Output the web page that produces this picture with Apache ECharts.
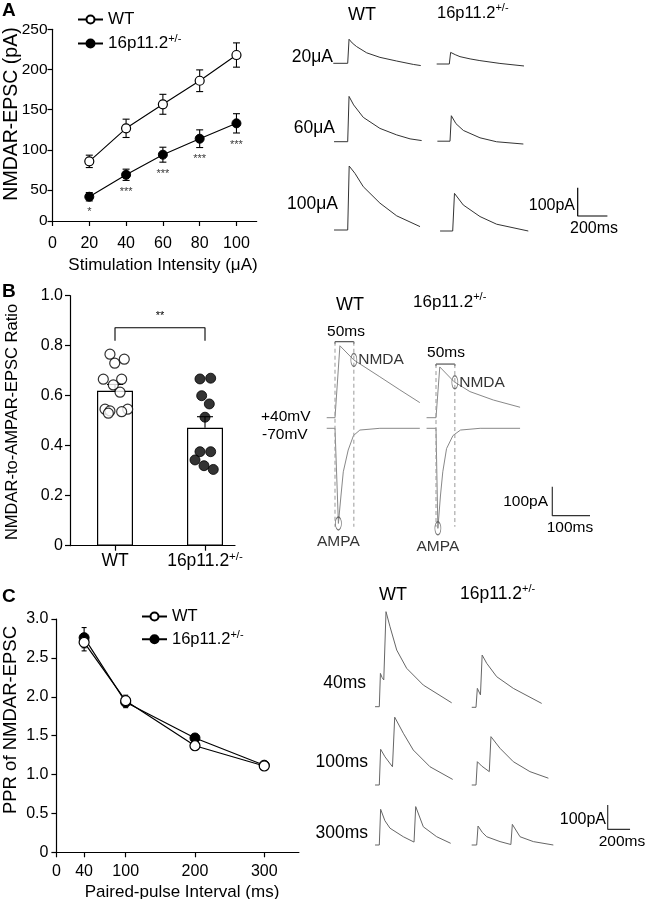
<!DOCTYPE html>
<html><head><meta charset="utf-8">
<script src="https://cdn.jsdelivr.net/npm/echarts@6/dist/echarts.min.js"></script>
<style>html,body{margin:0;padding:0;background:#fff}#c{width:646px;height:899px}</style>
</head><body><div id="c"></div>
<script>
// ---------- Panel A: NMDAR-EPSC vs stimulation intensity ----------
const aIntensity = [20, 40, 60, 80, 100];
const aWT = [85.7, 126.8, 156.7, 186, 218];
const aWTErr = [7.7, 11.4, 12.4, 13.5, 15.1];
const aHet = [41.7, 69, 94, 113.9, 133];
const aHetErr = [5.2, 7, 9.3, 11, 12];
const aStars = ['*', '***', '***', '***', '***'];
const aXTicks = [0, 20, 40, 60, 80, 100];
const aYTicks = [11.5, 50, 100, 150, 200, 250];
const aYTickLabels = ['0', '50', '100', '150', '200', '250'];

// ---------- Panel B: NMDA/AMPA ratio ----------
const bGroups = ['WT', '16p11.2+/-'];
const bMeans = [0.62, 0.472];
const bSem = [0.025, 0.044];
const bWTDots = [[0.444,0.766],[0.603,0.746],[0.497,0.73],[0.370,0.666],[0.574,0.666],[0.481,0.643],[0.556,0.614],[0.389,0.546],[0.444,0.539],[0.641,0.546],[0.574,0.536],[0.426,0.53]];
const bHetDots = [[1.444,0.667],[1.563,0.67],[1.463,0.6],[1.548,0.567],[1.5,0.514],[1.444,0.376],[1.563,0.376],[1.389,0.343],[1.489,0.32],[1.592,0.305]];
const bSigBracket = [[0.5,0.82],[0.5,0.872],[1.5,0.872],[1.5,0.82]];
const bYTicks = [0, 0.2, 0.4, 0.6, 0.8, 1.0];

// ---------- Panel C: paired-pulse ratio ----------
const cInterval = [40, 100, 200, 300];
const cWT = [2.70, 1.95, 1.37, 1.11];
const cWTErr = [0.11, 0.07, 0.04, 0.02];
const cHet = [2.76, 1.93, 1.47, 1.12];
const cHetErr = [0.13, 0.07, 0.03, 0.02];
const cXTicks = [0, 40, 100, 200, 300];

// ---------- Example traces [ms, pA] ----------
const trA_WT20   = [[-97,0],[0,0],[9,85],[30,72],[60,59],[128,37],[217,21],[330,8],[442,-4],[492,-8]];
const trA_Het20  = [[-85,0],[0,0],[9,41],[40,33],[72,26],[140,18],[206,12],[341,2],[503,-7]];
const trA_WT60   = [[-92,0],[0,0],[9,160],[40,130],[105,86],[217,47],[330,24],[420,10],[498,4]];
const trA_Het60  = [[-85,0],[0,0],[9,90],[40,62],[90,38],[202,12],[314,-2],[494,-10]];
const trA_WT100  = [[-92,0],[0,0],[10,226],[49,200],[105,153],[217,95],[330,50],[487,12]];
const trA_Het100 = [[-85,0],[0,0],[12,133],[71,92],[184,51],[296,24],[509,0]];
const scaleA = [[0,100],[0,0],[200,0]];

const trB_WT40  = [[-22,0],[0,0],[13,248],[50,199],[119,141],[172,96],[225,52]];
const trB_WT70  = [[-22,0],[0,0],[9,-328],[16,-230],[22,-150],[35,-75],[49,-25],[66,-6],[119,0],[225,0]];
const trB_Het40 = [[-25,0],[0,0],[10,175],[48,124],[90,90],[152,61],[223,36]];
const trB_Het70 = [[-25,0],[0,0],[5,-345],[12,-230],[18,-150],[28,-70],[45,-25],[65,-6],[117,0],[223,0]];
const bWTWindow = [[0,255],[0,262],[50,262],[50,255]];
const bWTDash = [[[0,262],[0,-376]], [[50,262],[50,-376]]];
const bHetWindow = [[0,178],[0,185],[50,185],[50,178]];
const bHetDash = [[[0,185],[0,-376]], [[50,185],[50,-376]]];
const bAMPA_WT = [9,-328], bNMDA_WT = [50,199], bAMPA_Het = [5,-345], bNMDA_Het = [50,122];
const scaleB = [[0,100],[0,0],[100,0]];

const trC_WT40   = [[-38,0],[0,0],[10,137],[25,120],[40,110],[60,391],[96,329],[156,233],[245,158],[394,89],[648,16]];
const trC_Het40  = [[-38,0],[0,0],[12,78],[40,51],[55,215],[96,181],[185,126],[334,78],[588,16]];
const trC_WT100  = [[-38,0],[0,0],[12,147],[51,116],[118,75],[138,279],[215,213],[304,144],[454,75],[657,23]];
const trC_Het100 = [[-38,0],[0,0],[12,96],[51,78],[119,55],[134,199],[215,151],[334,96],[483,55],[648,28]];
const trC_WT300  = [[-38,0],[0,0],[12,147],[50,100],[96,69],[215,34],[311,12],[326,158],[394,75],[514,34],[639,7]];
const trC_Het300 = [[-45,0],[0,0],[12,78],[50,52],[90,34],[209,14],[306,2],[319,85],[388,34],[507,14],[686,0]];
const scaleC = [[0,100],[0,0],[200,0]];

// ---------------------------------------------------------------
const FF = '"Liberation Sans", Arial, Helvetica, sans-serif';
const grids = [], xAxes = [], yAxes = [], series = [];
function addGrid(g, xa, ya) {
  grids.push(Object.assign({ containLabel: false, outerBoundsMode: 'none' }, g));
  const gi = grids.length - 1;
  xAxes.push(Object.assign({ gridIndex: gi }, xa));
  yAxes.push(Object.assign({ gridIndex: gi }, ya));
  return gi;
}
const axLine = { show: true, lineStyle: { color: '#000', width: 1.2 } };
const axTick = (vals) => ({ show: true, length: 5, customValues: vals, lineStyle: { color: '#000', width: 1.2 } });
const axLabel = (vals, fmt, extra) => Object.assign({ customValues: vals, formatter: fmt, fontSize: 16, color: '#000', fontFamily: FF }, extra || {});

// ---- Grid A ----
const gA = addGrid({ left: 52.5, top: 29.3, width: 204.2, height: 191.7 },
  { type: 'value', min: 0, max: 111, axisLine: axLine, axisTick: axTick(aXTicks), splitLine: { show: false },
    axisLabel: axLabel(aXTicks, v => String(v), { margin: 15 }) },
  { type: 'value', min: 11.5, max: 250, axisLine: axLine, axisTick: axTick(aYTicks), splitLine: { show: false },
    axisLabel: axLabel(aYTicks, v => aYTickLabels[aYTicks.indexOf(v)], { margin: 5, fontSize: 15.5 }) });

// ---- Grid B ----
const gB = addGrid({ left: 70, top: 295.7, width: 165, height: 250 },
  { type: 'value', min: 0, max: 1.8333, axisLine: axLine, axisTick: axTick([0.5, 1.5]), splitLine: { show: false },
    axisLabel: axLabel([0.5, 1.5], v => v < 1 ? '{n|WT}' : '{n|16p11.2}{s|+/-}',
      { margin: 5, rich: { n: { fontSize: 17.5, fontFamily: FF, color: '#000', lineHeight: 20 }, s: { fontSize: 11.5, fontFamily: FF, color: '#000', verticalAlign: 'top', lineHeight: 20 } } }) },
  { type: 'value', min: 0, max: 1, axisLine: axLine, axisTick: axTick(bYTicks), splitLine: { show: false },
    axisLabel: axLabel(bYTicks, v => v === 0 ? '0' : v.toFixed(1), { margin: 7 }) });

// ---- Grid C ----
const gC = addGrid({ left: 56.4, top: 619, width: 242.5, height: 233.3 },
  { type: 'value', min: 0, max: 350, axisLine: axLine, axisTick: axTick(cXTicks), splitLine: { show: false },
    axisLabel: axLabel(cXTicks, v => String(v), { margin: 11 }) },
  { type: 'value', min: 0, max: 3, interval: 0.5, axisLine: axLine, axisTick: { show: true, length: 5, lineStyle: { color: '#000', width: 1.2 } }, splitLine: { show: false },
    axisLabel: { formatter: v => v === 0 ? '0' : v.toFixed(1), fontSize: 16, color: '#000', fontFamily: FF, margin: 8 } });

function errSeries(gi, data, capHalf, onlyUp) {
  return {
    type: 'custom', xAxisIndex: gi, yAxisIndex: gi, data, z: 1, silent: true,
    encode: { x: 0, y: 1 },
    renderItem(params, api) {
      const x = api.value(0), m = api.value(1), e = api.value(2);
      const top = api.coord([x, m + e]);
      const bot = api.coord([x, onlyUp ? m : m - e]);
      const st = { stroke: '#000', lineWidth: 1.1 };
      const ch = [
        { type: 'line', shape: { x1: top[0], y1: top[1], x2: bot[0], y2: bot[1] }, style: st },
        { type: 'line', shape: { x1: top[0] - capHalf, y1: top[1], x2: top[0] + capHalf, y2: top[1] }, style: st }
      ];
      if (!onlyUp) ch.push({ type: 'line', shape: { x1: bot[0] - capHalf, y1: bot[1], x2: bot[0] + capHalf, y2: bot[1] }, style: st });
      return { type: 'group', children: ch };
    }
  };
}
const openSym = { color: '#fff', borderColor: '#000', borderWidth: 1.2 };
const fillSym = { color: '#000', borderColor: '#000', borderWidth: 1 };

// Panel A series
series.push(errSeries(gA, aIntensity.map((x, i) => [x, aWT[i], aWTErr[i]]), 3.5, false));
series.push(errSeries(gA, aIntensity.map((x, i) => [x, aHet[i], aHetErr[i]]), 3.5, false));
series.push({ name: 'WT', type: 'line', xAxisIndex: gA, yAxisIndex: gA, z: 3, data: aIntensity.map((x, i) => [x, aWT[i]]),
  symbol: 'circle', symbolSize: 9, showAllSymbol: true, lineStyle: { color: '#000', width: 1.1 }, itemStyle: openSym });
series.push({ name: '16p11.2+/-', type: 'line', xAxisIndex: gA, yAxisIndex: gA, z: 3, data: aIntensity.map((x, i) => [x, aHet[i]]),
  symbol: 'circle', symbolSize: 9, lineStyle: { color: '#000', width: 1.1 }, itemStyle: fillSym });
series.push({ type: 'scatter', xAxisIndex: gA, yAxisIndex: gA, silent: true, symbolSize: 0,
  data: aIntensity.map((x, i) => [x, aHet[i] - aHetErr[i]]),
  label: { show: true, position: 'bottom', distance: 6, formatter: p => aStars[p.dataIndex], fontSize: 11, color: '#000', fontFamily: FF } });

// Panel B series
series.push({ type: 'bar', xAxisIndex: gB, yAxisIndex: gB, barWidth: 36, z: 1, silent: true,
  data: bMeans.map((m, i) => [i + 0.5, m]), itemStyle: { color: '#fff', borderColor: '#000', borderWidth: 1.2 } });
series.push(Object.assign(errSeries(gB, bMeans.map((m, i) => [i + 0.5, m, bSem[i]]), 8, true), { z: 2 }));
series.push({ type: 'scatter', xAxisIndex: gB, yAxisIndex: gB, z: 4, data: bWTDots, symbolSize: 10, itemStyle: openSym, silent: true });
series.push({ type: 'scatter', xAxisIndex: gB, yAxisIndex: gB, z: 5, data: bHetDots, symbolSize: 10, itemStyle: fillSym, silent: true });
series.push({ type: 'line', xAxisIndex: gB, yAxisIndex: gB, data: bSigBracket, symbol: 'none', lineStyle: { color: '#000', width: 1.1 }, silent: true });

// Panel C series
series.push(errSeries(gC, cInterval.map((x, i) => [x, cHet[i], cHetErr[i]]), 2.5, false));
series.push(errSeries(gC, cInterval.map((x, i) => [x, cWT[i], cWTErr[i]]), 2.5, false));
series.push({ name: '16p11.2+/-', type: 'line', xAxisIndex: gC, yAxisIndex: gC, z: 3, data: cInterval.map((x, i) => [x, cHet[i]]),
  symbol: 'circle', symbolSize: 10, lineStyle: { color: '#000', width: 1.2 }, itemStyle: fillSym });
series.push({ name: 'WT', type: 'line', xAxisIndex: gC, yAxisIndex: gC, z: 4, data: cInterval.map((x, i) => [x, cWT[i]]),
  symbol: 'circle', symbolSize: 10, lineStyle: { color: '#000', width: 1.2 }, itemStyle: openSym });

// ---- trace grids: origin (t=0, I=0) in pixels, px per ms, px per pA; extent from the data it holds ----
function traceGrid(ox, oy, sx, sy, sets) {
  const pts = [].concat(...sets);
  const ts = pts.map(p => p[0]), is = pts.map(p => p[1]);
  const t0 = Math.min(...ts) - 10, t1 = Math.max(...ts) + 10;
  const i0 = Math.min(...is) - 10, i1 = Math.max(...is) + 10;
  return addGrid({ left: ox + t0 * sx, top: oy - i1 * sy, width: (t1 - t0) * sx, height: (i1 - i0) * sy },
    { type: 'value', min: t0, max: t1, show: false, splitLine: { show: false } },
    { type: 'value', min: i0, max: i1, show: false, splitLine: { show: false } });
}
function traceLine(gi, data, color, width, dashed) {
  series.push({ type: 'line', xAxisIndex: gi, yAxisIndex: gi, data, symbol: 'none', silent: true, clip: false,
    lineStyle: { color, width: width || 1, type: dashed ? [4, 3] : 'solid' } });
}
function ellipse(gi, pt, lab, pos) {
  series.push({ type: 'scatter', xAxisIndex: gi, yAxisIndex: gi, data: [pt], symbol: 'circle', symbolSize: [6, 13], z: 5, silent: true, clip: false,
    itemStyle: { color: 'rgba(0,0,0,0)', borderColor: '#555', borderWidth: 1 },
    label: { show: true, position: pos, distance: pos === 'bottom' ? 3 : 1, formatter: lab, fontSize: 15.5, color: '#000', fontFamily: FF } });
}
function trace(ox, oy, sx, sy, data, color, width) {
  traceLine(traceGrid(ox, oy, sx, sy, [data]), data, color, width);
}
// A traces
const SXA = 0.1485, SYA = 0.283, colA = '#333';
trace(347.7, 63.3, SXA, SYA, trA_WT20, colA);
trace(449.3, 64, SXA, SYA, trA_Het20, colA);
trace(347.7, 141.7, SXA, SYA, trA_WT60, colA);
trace(450, 141.2, SXA, SYA, trA_Het60, colA);
trace(347.7, 230, SXA, SYA, trA_WT100, colA);
trace(452.7, 231, SXA, SYA, trA_Het100, colA);
trace(577.7, 216, SXA, SYA, scaleA, '#000', 1.2);
// B traces
const SXB = 0.377, SYB = 0.29, colB = '#888';
const gBw40 = traceGrid(335, 417.7, SXB, SYB, [trB_WT40, bWTWindow, ...bWTDash, [bNMDA_WT]]);
const gBw70 = traceGrid(335, 428.3, SXB, SYB, [trB_WT70, [bAMPA_WT]]);
const gBh40 = traceGrid(436, 417.7, SXB, SYB, [trB_Het40, bHetWindow, ...bHetDash, [bNMDA_Het]]);
const gBh70 = traceGrid(436, 428.3, SXB, SYB, [trB_Het70, [bAMPA_Het]]);
traceLine(gBw40, trB_WT40, colB); traceLine(gBw70, trB_WT70, colB);
traceLine(gBh40, trB_Het40, colB); traceLine(gBh70, trB_Het70, colB);
traceLine(gBw40, bWTWindow, '#333'); traceLine(gBh40, bHetWindow, '#333');
bWTDash.forEach(d => traceLine(gBw40, d, '#999', 1, true));
bHetDash.forEach(d => traceLine(gBh40, d, '#999', 1, true));
ellipse(gBw70, bAMPA_WT, 'AMPA', 'bottom'); ellipse(gBw40, bNMDA_WT, 'NMDA', 'right');
ellipse(gBh70, bAMPA_Het, 'AMPA', 'bottom'); ellipse(gBh40, bNMDA_Het, 'NMDA', 'right');
trace(552.3, 515.7, SXB, SYB, scaleB, '#333', 1.2);
// C traces
const SXC = 0.1117, SYC = 0.243, colC = '#666';
trace(379.3, 706.7, SXC, SYC, trC_WT40, colC);
trace(476, 707.3, SXC, SYC, trC_Het40, colC);
trace(379.3, 785, SXC, SYC, trC_WT100, colC);
trace(476, 785, SXC, SYC, trC_Het100, colC);
trace(379.3, 845, SXC, SYC, trC_WT300, colC);
trace(476.7, 845, SXC, SYC, trC_Het300, colC);
trace(607.7, 829.3, SXC, SYC, scaleC, '#333', 1.2);

// ---- texts ----
const richSup = (fs) => ({ n: { fontSize: fs, fontFamily: FF, fill: '#000', color: '#000', lineHeight: fs + 4 }, s: { fontSize: Math.round(fs * 0.65), fontFamily: FF, fill: '#000', color: '#000', verticalAlign: 'top', lineHeight: fs + 4 } });
function txt(x, y, text, fs, align, opts) {
  const el = { type: 'text', x, y, silent: true, style: { text, fontSize: fs, fontFamily: FF, fill: '#000', align: align || 'left', verticalAlign: 'middle' } };
  if (opts && opts.bold) el.style.fontWeight = 'bold';
  if (opts && opts.rot) el.rotation = opts.rot;
  if (opts && opts.rich) el.style.rich = richSup(fs);
  return el;
}
const HET = '{n|16p11.2}{s|+/-}';
const graphics = [
  txt(2, 11, 'A', 19, 'left', { bold: true }),
  txt(2, 292, 'B', 19, 'left', { bold: true }),
  txt(2, 597, 'C', 19, 'left', { bold: true }),
  txt(12, 114, 'NMDAR-EPSC (pA)', 19.5, 'center', { rot: Math.PI / 2 }),
  txt(163, 265, 'Stimulation Intensity (\u03BCA)', 17, 'center'),
  txt(12, 422, 'NMDAR-to-AMPAR-EPSC Ratio', 16.5, 'center', { rot: Math.PI / 2 }),
  txt(160, 316, '**', 11, 'center'),
  txt(11, 720, 'PPR of NMDAR-EPSC', 18.5, 'center', { rot: Math.PI / 2 }),
  txt(182, 892, 'Paired-pulse Interval (ms)', 17, 'center'),
  // A traces
  txt(362, 15, 'WT', 18, 'center'),
  txt(437, 13, HET, 16.5, 'left', { rich: true }),
  txt(333, 57, '20\u03BCA', 17.5, 'right'),
  txt(335, 128, '60\u03BCA', 17.5, 'right'),
  txt(338, 204, '100\u03BCA', 17.5, 'right'),
  txt(575, 206, '100pA', 16, 'right'),
  txt(594, 229, '200ms', 16, 'center'),
  // B traces
  txt(350, 305, 'WT', 18, 'center'),
  txt(413, 302, HET, 17, 'left', { rich: true }),
  txt(261, 417, '+40mV', 15.5, 'left'),
  txt(262, 435, '-70mV', 15.5, 'left'),
  txt(346, 332, '50ms', 15.5, 'center'),
  txt(446, 353, '50ms', 15.5, 'center'),
  txt(548, 502, '100pA', 15.5, 'right'),
  txt(570, 528, '100ms', 15.5, 'center'),
  // C traces
  txt(393, 595, 'WT', 18, 'center'),
  txt(460, 594, HET, 17.5, 'left', { rich: true }),
  txt(366, 683, '40ms', 17.5, 'right'),
  txt(368, 762, '100ms', 17.5, 'right'),
  txt(368, 833, '300ms', 17.5, 'right'),
  txt(606, 820, '100pA', 16, 'right'),
  txt(622, 842, '200ms', 15.5, 'center')
];

const legendFmt = name => name === 'WT' ? '{n|WT}' : HET;
const legendBase = (left, top, fs, gap) => ({
  left, top, orient: 'vertical', itemWidth: 25, itemHeight: 10, itemGap: gap, selectedMode: false,
  data: ['WT', '16p11.2+/-'], formatter: legendFmt,
  textStyle: { rich: { n: { fontSize: fs, fontFamily: FF, color: '#000', lineHeight: fs + 4 }, s: { fontSize: Math.round(fs * 0.65), fontFamily: FF, color: '#000', verticalAlign: 'top', lineHeight: fs + 4 } } }
});

const chart = echarts.init(document.getElementById('c'), null, { renderer: 'canvas' });
chart.setOption({
  animation: false,
  backgroundColor: '#fff',
  textStyle: { fontFamily: FF },
  grid: grids, xAxis: xAxes, yAxis: yAxes, series,
  legend: [legendBase(72, 6, 17, 5), legendBase(136, 603, 16.5, 4)],
  graphic: graphics
});
</script></body></html>
